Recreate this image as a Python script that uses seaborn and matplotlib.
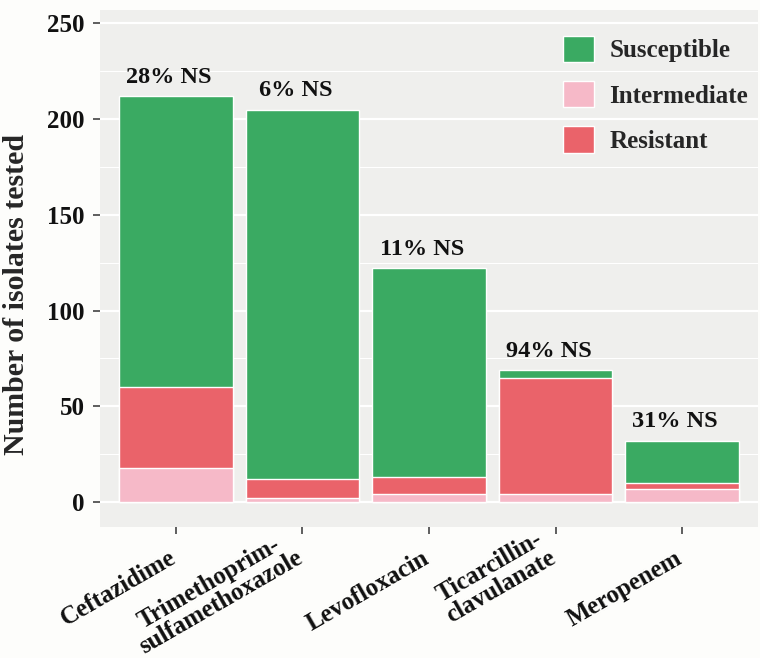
import pandas as pd
import matplotlib.pyplot as plt
import matplotlib.transforms as mtrans
import seaborn as sns

# Antibiotic susceptibility counts
drugs = ["Ceftazidime", "Trimethoprim-\nsulfamethoxazole", "Levofloxacin",
         "Ticarcillin-\nclavulanate", "Meropenem"]
susceptible = [152, 193, 109, 4, 22]
intermediate = [18, 2, 4, 4, 7]
resistant = [42, 10, 9, 61, 3]

colors = {"Susceptible": "#3aaa62", "Intermediate": "#f6b9c8", "Resistant": "#ea636a"}

df = pd.DataFrame({"drug": drugs, "S": susceptible, "I": intermediate, "R": resistant})
df["IR"] = df["I"] + df["R"]
df["total"] = df["IR"] + df["S"]
df["ns"] = (100 * df["IR"] / df["total"]).round().astype(int)

sns.set_theme(style="darkgrid", rc={
    "axes.facecolor": "#efefed",
    "figure.facecolor": "#fdfdfb",
    "grid.color": "white",
    "grid.linewidth": 1.6,
})
plt.rcParams['font.family'] = ['Liberation Serif', 'DejaVu Serif']
plt.rcParams['font.weight'] = 'bold'

fig, ax = plt.subplots(figsize=(7.6, 6.58), dpi=100)
fig.subplots_adjust(left=100/760, right=758/760, top=1-10/658, bottom=1-527/658)

# stacked bars: draw cumulative heights from the top layer down
sns.barplot(data=df, x="drug", y="total", color=colors["Susceptible"], width=0.9,
            saturation=1, ax=ax, label="Susceptible")
sns.barplot(data=df, x="drug", y="IR", color=colors["Resistant"], width=0.9,
            saturation=1, ax=ax, label="Resistant")
sns.barplot(data=df, x="drug", y="I", color=colors["Intermediate"], width=0.9,
            saturation=1, ax=ax, label="Intermediate")

shift = mtrans.ScaledTranslation(-7/100, 0, fig.dpi_scale_trans)
for i, row in df.iterrows():
    ax.text(i, row["total"] + 7, f"{row['ns']}% NS", ha="center", va="baseline",
            fontsize=17.5, fontweight="bold", color="#111111",
            transform=ax.transData + shift)

ax.set_xlim(-0.6, 4.6)
ax.set_ylim(-13, 257)
ax.set_yticks([0, 50, 100, 150, 200, 250])
ax.yaxis.grid(False)
for v in [25, 75, 125, 175, 225]:
    ax.axhline(v, color="white", lw=0.8, zorder=0)
for v in [0, 50, 100, 150, 200, 250]:
    ax.axhline(v, color="white", lw=1.6, zorder=0)
ax.set_axisbelow(True)

ax.set_xlabel("")
ax.set_ylabel("Number of isolates tested", fontsize=21.5, fontweight="bold")
ax.yaxis.set_label_coords(-0.106, 0.45)
ax.tick_params(axis="both", which="both", length=5, width=1.2, color="#444444",
               labelsize=18, labelcolor="#111111", left=True, bottom=True, pad=6)
xshift = mtrans.ScaledTranslation(4/100, -24/100, fig.dpi_scale_trans)
for lab in ax.get_xticklabels():
    lab.set_rotation(30)
    lab.set_ha("right")
    lab.set_va("bottom")
    lab.set_rotation_mode("anchor")
    lab.set_multialignment("center")
    lab.set_linespacing(1.0)
    lab.set_fontsize(18)
    lab.set_fontweight("bold")
    lab.set_transform(lab.get_transform() + xshift)
plt.setp(ax.get_yticklabels(), fontweight="bold")

handles, labels = ax.get_legend_handles_labels()
order = ["Susceptible", "Intermediate", "Resistant"]
hl = dict(zip(labels, handles))
ax.legend([hl[k] for k in order], order, loc="upper right", frameon=False,
          bbox_to_anchor=(1.0, 0.97), borderaxespad=0,
          handlelength=1.25, handleheight=1.25, labelspacing=0.75,
          handletextpad=0.6, prop={"weight": "bold", "size": 18})

for s in ax.spines.values():
    s.set_visible(False)

fig.savefig("out.png", dpi=100)
